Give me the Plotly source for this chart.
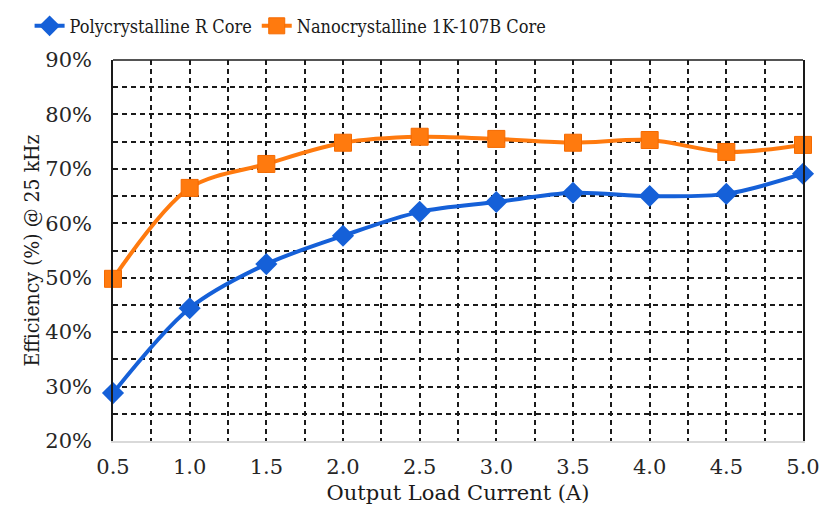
import plotly.graph_objects as go

# Output load current (A)
load_current = [0.5, 1.0, 1.5, 2.0, 2.5, 3.0, 3.5, 4.0, 4.5, 5.0]

# Efficiency (%) at 25 kHz
poly_r_core = [28.8, 44.4, 52.5, 57.7, 62.1, 63.9, 65.6, 65.0, 65.4, 69.1]
nano_1k107b_core = [49.8, 66.5, 70.9, 74.8, 75.9, 75.5, 74.8, 75.3, 73.1, 74.4]

x_ticks = [0.5, 1.0, 1.5, 2.0, 2.5, 3.0, 3.5, 4.0, 4.5, 5.0]
x_tick_text = ["0.5", "1.0", "1.5", "2.0", "2.5", "3.0", "3.5", "4.0", "4.5", "5.0"]
y_ticks = [20, 30, 40, 50, 60, 70, 80, 90]
y_tick_text = ["20%", "30%", "40%", "50%", "60%", "70%", "80%", "90%"]

BLUE = "#1560D8"
ORANGE = "#FF7A0E"
FONT = "DejaVu Serif"
FONT_NARROW = "DejaVu Serif Condensed, DejaVu Serif"

fig = go.Figure()

fig.add_trace(go.Scatter(
    x=load_current, y=poly_r_core,
    name="Polycrystalline R Core",
    mode="lines+markers",
    line=dict(color=BLUE, width=4, shape="spline", smoothing=0.9),
    marker=dict(symbol="diamond", size=17, color=BLUE),
    cliponaxis=False,
))

fig.add_trace(go.Scatter(
    x=load_current, y=nano_1k107b_core,
    name="Nanocrystalline 1K-107B Core",
    mode="lines+markers",
    line=dict(color=ORANGE, width=4, shape="spline", smoothing=0.9),
    marker=dict(symbol="square", size=17, color=ORANGE,
                line=dict(color="#F56A00", width=1)),
    cliponaxis=False,
))

grid_dash = "5px,4px"

fig.update_layout(
    width=822, height=508,
    margin=dict(l=113, r=19, t=60, b=67),
    paper_bgcolor="white",
    plot_bgcolor="white",
    font=dict(family=FONT, size=20, color="#262626"),
    showlegend=True,
    legend=dict(
        orientation="h",
        xref="container", yref="container",
        x=0.036, y=0.985, xanchor="left", yanchor="top",
        font=dict(family=FONT_NARROW, size=18, color="#1a1a1a"),
        itemwidth=30,
        tracegroupgap=0,
        bgcolor="rgba(0,0,0,0)",
    ),
    xaxis=dict(
        range=[0.5, 5.0],
        automargin=False,
        tickvals=x_ticks, ticktext=x_tick_text,
        tickfont=dict(family=FONT, size=21, color="#262626"),
        showgrid=True, gridcolor="#1a1a1a", gridwidth=1.5, griddash=grid_dash,
        minor=dict(dtick=0.25, tick0=0.5, showgrid=True, gridcolor="#1a1a1a",
                   gridwidth=1.5, griddash=grid_dash),
        showline=True, linecolor="#d9d9d9", linewidth=1.5,
        zeroline=False, ticks="",
        ticklabelstandoff=6,
        title=dict(text="Output Load Current (A)",
                   font=dict(family=FONT, size=21, color="#1a1a1a"),
                   standoff=7),
    ),
    yaxis=dict(
        range=[20, 90],
        automargin=False,
        tickvals=y_ticks, ticktext=y_tick_text,
        tickfont=dict(family=FONT, size=21, color="#262626"),
        showgrid=True, gridcolor="#1a1a1a", gridwidth=1.5, griddash=grid_dash,
        minor=dict(dtick=5, tick0=20, showgrid=True, gridcolor="#1a1a1a",
                   gridwidth=1.5, griddash=grid_dash),
        showline=True, linecolor="#1a1a1a", linewidth=1.5,
        mirror=True,
        zeroline=False, ticks="",
        ticklabelstandoff=15,
        title=dict(text="Efficiency (%) @ 25 kHz",
                   font=dict(family=FONT_NARROW, size=21, color="#1a1a1a"),
                   standoff=0),
    ),
)

# solid frame edge along the top of the plotting area
fig.add_shape(type="line", xref="x domain", yref="y domain",
              x0=0, x1=1, y0=1, y1=1,
              line=dict(color="#1a1a1a", width=1.5), layer="below")

fig.write_html("out.html")
